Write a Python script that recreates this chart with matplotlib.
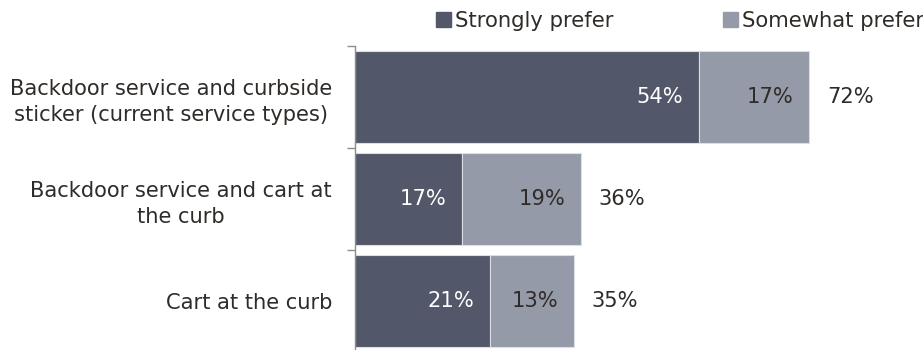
import matplotlib
matplotlib.use('Agg')
import matplotlib.pyplot as plt
from matplotlib.patches import Patch
from matplotlib.textpath import TextPath
from matplotlib.font_manager import FontProperties

# Data
categories = ["Backdoor service and curbside\nsticker (current service types)",
              "Backdoor service and cart at\nthe curb",
              "Cart at the curb"]
strongly = [54.4, 17.0, 21.4]
somewhat = [17.4, 18.7, 13.2]
series_names = ["Strongly prefer", "Somewhat prefer"]

DARK = "#525869"
LIGHT = "#959aa8"
TXT = "#2e2b28"
DPI = 100

plt.rcParams['font.family'] = ['DejaVu Sans']
FP = FontProperties(family="DejaVu Sans")


def size_for(text, px):
    # font size in points so that `text` is `px` pixels wide
    w = TextPath((0, 0), text, size=100, prop=FP).get_extents().width
    return px / w * 100 * 72 / DPI


cat_fs = size_for("Backdoor service and curbside", 320)
val_fs = size_for("54%", 44)
leg_fs = (size_for("Strongly prefer", 158) + size_for("Somewhat prefer", 180)) / 2
leg_px = leg_fs * DPI / 72

fig = plt.figure(figsize=(9.23, 3.5), dpi=DPI)
ax = fig.add_axes([355 / 923, -2 / 350, 568 / 923, 306 / 350])

y = range(len(categories))
ax.barh(y, strongly, height=0.905, color=DARK, edgecolor="#dcdee3", linewidth=0.8)
ax.barh(y, somewhat, left=strongly, height=0.905, color=LIGHT,
        edgecolor="#dcdee3", linewidth=0.8)

for i in y:
    s, w = strongly[i], somewhat[i]
    ax.annotate(f"{s:.0f}%", (s, i), xytext=(-11.5, 0), textcoords="offset points",
                ha="right", va="center", color="white", fontsize=val_fs)
    ax.annotate(f"{w:.0f}%", (s + w, i), xytext=(-10.8, 0), textcoords="offset points",
                ha="right", va="center", color=TXT, fontsize=val_fs)
    ax.annotate(f"{s + w:.0f}%", (s + w, i), xytext=(13, 0), textcoords="offset points",
                ha="left", va="center", color=TXT, fontsize=val_fs)

ax.set_xlim(0, 568 / 6.32)
ax.set_ylim(2.5, -0.5)
ax.set_yticks([-0.5, 0.5, 1.5, 2.5])
ax.set_yticklabels([])
ax.set_yticks(list(y), minor=True)
ax.set_yticklabels(categories, minor=True, fontsize=cat_fs, color=TXT, ha="right",
                   multialignment="center", linespacing=1.35)
ax.tick_params(axis="y", which="major", length=5.5, width=1, color="#8c8c8c", direction="out")
ax.tick_params(axis="y", which="minor", length=0, pad=16.5)
ax.set_xticks([])
for side in ["top", "right", "bottom"]:
    ax.spines[side].set_visible(False)
ax.spines["left"].set_color("#8c8c8c")
ax.spines["left"].set_linewidth(1)

handles = [Patch(color=DARK), Patch(color=LIGHT)]
fig.legend(handles, series_names, loc="center left",
           bbox_to_anchor=(436 / 923, 1 - 21 / 350), borderpad=0, borderaxespad=0,
           ncol=2, frameon=False, fontsize=leg_fs,
           handlelength=15 / leg_px, handleheight=15 / leg_px,
           handletextpad=4 / leg_px, columnspacing=109 / leg_px, labelcolor=TXT)

fig.savefig("out.png", dpi=DPI)
